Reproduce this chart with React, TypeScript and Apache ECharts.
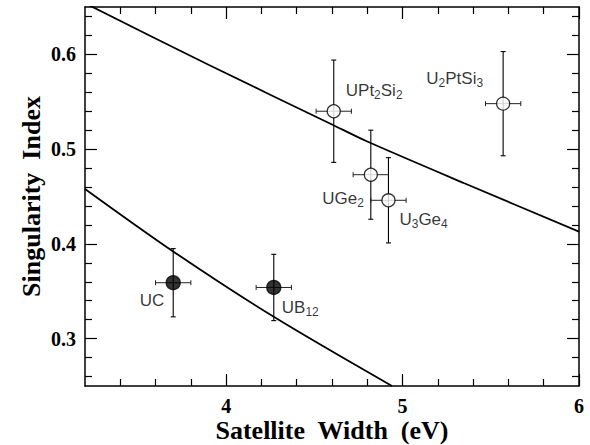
import React, { useEffect, useRef } from "react";
import * as echarts from "echarts";

// ---- data ----
const compoundLabels = ["UC", "UB{s|12}", "UPt{s|2}Si{s|2}", "UGe{s|2}", "U{s|3}Ge{s|4}", "U{s|2}PtSi{s|3}"];
const satelliteWidth = [3.70, 4.27, 4.61, 4.82, 4.92, 5.57];
const singularityIndex = [0.359, 0.354, 0.540, 0.473, 0.446, 0.548];
const widthError = [0.10, 0.10, 0.10, 0.10, 0.10, 0.10];
const indexError = [0.036, 0.035, 0.054, 0.047, 0.045, 0.055];
const filledMarker = [true, true, false, false, false, false];

const upperCurveX = [3.2, 3.9, 4.6, 4.8, 5.35, 6.0];
const upperCurveY = [0.654, 0.589, 0.526, 0.508, 0.464, 0.413];
const lowerCurveX = [3.2, 3.7, 4.27, 4.94];
const lowerCurveY = [0.458, 0.392, 0.323, 0.25];

const xMajorTicks = [4, 5, 6];
const xMinorTicks = [3.4, 3.6, 3.8, 4.2, 4.4, 4.6, 4.8, 5.2, 5.4, 5.6, 5.8];
const yMajorTicks = [0.3, 0.4, 0.5, 0.6];
const yMinorTicks = [0.26, 0.28, 0.32, 0.34, 0.36, 0.38, 0.42, 0.44, 0.46, 0.48, 0.52, 0.54, 0.56, 0.58, 0.62, 0.64];

// ---- layout / style (not data) ----
const labelPlacement: { align: string; offset: number[] }[] = [
  { align: "right", offset: [-9, 18] },
  { align: "left", offset: [8, 20] },
  { align: "left", offset: [12, -21] },
  { align: "right", offset: [-7, 24] },
  { align: "left", offset: [11, 19] },
  { align: "right", offset: [-20, -25] },
];

const SERIF = "'Liberation Serif', 'Times New Roman', serif";
const SANS = "'Liberation Sans', Arial, Helvetica, sans-serif";
const X_MIN = 3.2, X_MAX = 6;
const Y_MIN = 0.25, Y_MAX = 0.65;

function xAxisDef(position: string, ticks: number[], len: number, main: boolean, labels: boolean) {
  return {
    type: "value",
    position,
    min: X_MIN,
    max: X_MAX,
    splitLine: { show: false },
    axisLine: { show: main, onZero: false, lineStyle: { color: "#000", width: 1.5 } },
    axisTick: { show: true, inside: true, length: len, customValues: ticks, lineStyle: { color: "#000", width: 1.2 } },
    axisLabel: labels
      ? {
          show: true,
          customValues: ticks,
          margin: 10,
          color: "#000",
          fontFamily: SERIF,
          fontWeight: "bold",
          fontSize: 20,
          lineHeight: 20,
          formatter: (v: number) => String(Math.round(v * 10) / 10),
        }
      : { show: false },
    ...(labels
      ? {
          name: "Satellite  Width  (eV)",
          nameLocation: "middle",
          nameGap: 31,
          nameMoveOverlap: false,
          nameTextStyle: { color: "#000", fontFamily: SERIF, fontWeight: "bold", fontSize: 26, lineHeight: 26 },
        }
      : {}),
  };
}

function yAxisDef(position: string, ticks: number[], len: number, main: boolean, labels: boolean) {
  return {
    type: "value",
    position,
    min: Y_MIN,
    max: Y_MAX,
    splitLine: { show: false },
    axisLine: { show: main, onZero: false, lineStyle: { color: "#000", width: 1.5 } },
    axisTick: { show: true, inside: true, length: len, customValues: ticks, lineStyle: { color: "#000", width: 1.2 } },
    axisLabel: labels
      ? {
          show: true,
          customValues: ticks,
          margin: 9,
          color: "#000",
          fontFamily: SERIF,
          fontWeight: "bold",
          fontSize: 20,
          formatter: (v: number) => v.toFixed(1),
        }
      : { show: false },
    ...(labels
      ? {
          name: "Singularity  Index",
          nameLocation: "middle",
          nameGap: 41,
          nameMoveOverlap: false,
          nameTextStyle: { color: "#000", fontFamily: SERIF, fontWeight: "bold", fontSize: 26 },
        }
      : {}),
  };
}

export default function App() {
  const ref = useRef<HTMLDivElement>(null);

  useEffect(() => {
    if (!ref.current) return;
    const chart = echarts.init(ref.current, null, { renderer: "svg" });

    const errorData = satelliteWidth.map((x, i) => [x, singularityIndex[i], widthError[i], indexError[i]]);

    const pointData = satelliteWidth.map((x, i) => ({
      value: [x, singularityIndex[i]],
      itemStyle: {
        color: filledMarker[i] ? "#000" : "#fff",
        borderColor: "#000",
        borderWidth: 1.3,
      },
      symbolSize: filledMarker[i] ? 14 : 13,
      label: {
        show: true,
        formatter: compoundLabels[i],
        position: "inside",
        align: labelPlacement[i].align,
        verticalAlign: "middle",
        offset: labelPlacement[i].offset,
        color: "#000",
        fontFamily: SANS,
        fontSize: 17,
        textBorderWidth: 0,
        rich: {
          s: { fontFamily: SANS, fontSize: 12, color: "#000", padding: [9, 0, 0, 0] },
        },
      },
    }));

    const option: any = {
      animation: false,
      backgroundColor: "#fff",
      grid: { left: 85, right: 11, top: 7, bottom: 59, outerBoundsMode: "none", containLabel: false },
      xAxis: [
        xAxisDef("bottom", xMajorTicks, 12, true, true),
        xAxisDef("bottom", xMinorTicks, 7, false, false),
        xAxisDef("top", xMajorTicks, 12, true, false),
        xAxisDef("top", xMinorTicks, 7, false, false),
      ],
      yAxis: [
        yAxisDef("left", yMajorTicks, 12, true, true),
        yAxisDef("left", yMinorTicks, 7, false, false),
        yAxisDef("right", yMajorTicks, 12, true, false),
        yAxisDef("right", yMinorTicks, 7, false, false),
      ],
      series: [
        {
          type: "line",
          xAxisIndex: 0,
          yAxisIndex: 0,
          data: upperCurveX.map((x, i) => [x, upperCurveY[i]]),
          showSymbol: false,
          smooth: 0.3,
          clip: true,
          lineStyle: { color: "#000", width: 1.8 },
          z: 2,
        },
        {
          type: "line",
          xAxisIndex: 0,
          yAxisIndex: 0,
          data: lowerCurveX.map((x, i) => [x, lowerCurveY[i]]),
          showSymbol: false,
          smooth: 0.3,
          clip: true,
          lineStyle: { color: "#000", width: 1.8 },
          z: 2,
        },
        {
          type: "custom",
          xAxisIndex: 0,
          yAxisIndex: 0,
          data: errorData,
          encode: { x: 0, y: 1 },
          z: 3,
          renderItem: (_params: any, api: any) => {
            const x = api.value(0);
            const y = api.value(1);
            const xe = api.value(2);
            const ye = api.value(3);
            const l = api.coord([x - xe, y]);
            const r = api.coord([x + xe, y]);
            const t = api.coord([x, y + ye]);
            const b = api.coord([x, y - ye]);
            const cap = 2.5;
            const vs = { stroke: "#000", lineWidth: 1.1 };
            const hs = { stroke: "#222", lineWidth: 1 };
            return {
              type: "group",
              children: [
                { type: "line", shape: { x1: t[0], y1: t[1], x2: b[0], y2: b[1] }, style: vs },
                { type: "line", shape: { x1: t[0] - cap, y1: t[1], x2: t[0] + cap, y2: t[1] }, style: vs },
                { type: "line", shape: { x1: b[0] - cap, y1: b[1], x2: b[0] + cap, y2: b[1] }, style: vs },
                { type: "line", shape: { x1: l[0], y1: l[1], x2: r[0], y2: r[1] }, style: hs },
                { type: "line", shape: { x1: l[0], y1: l[1] - cap, x2: l[0], y2: l[1] + cap }, style: hs },
                { type: "line", shape: { x1: r[0], y1: r[1] - cap, x2: r[0], y2: r[1] + cap }, style: hs },
              ],
            };
          },
        },
        {
          type: "scatter",
          xAxisIndex: 0,
          yAxisIndex: 0,
          symbol: "circle",
          data: pointData,
          z: 4,
        },
      ],
    };

    chart.setOption(option);
    return () => chart.dispose();
  }, []);

  return (
    <div
      ref={ref}
      style={{ position: "fixed", left: 0, top: 0, width: 590, height: 445, background: "#fff" }}
    />
  );
}
